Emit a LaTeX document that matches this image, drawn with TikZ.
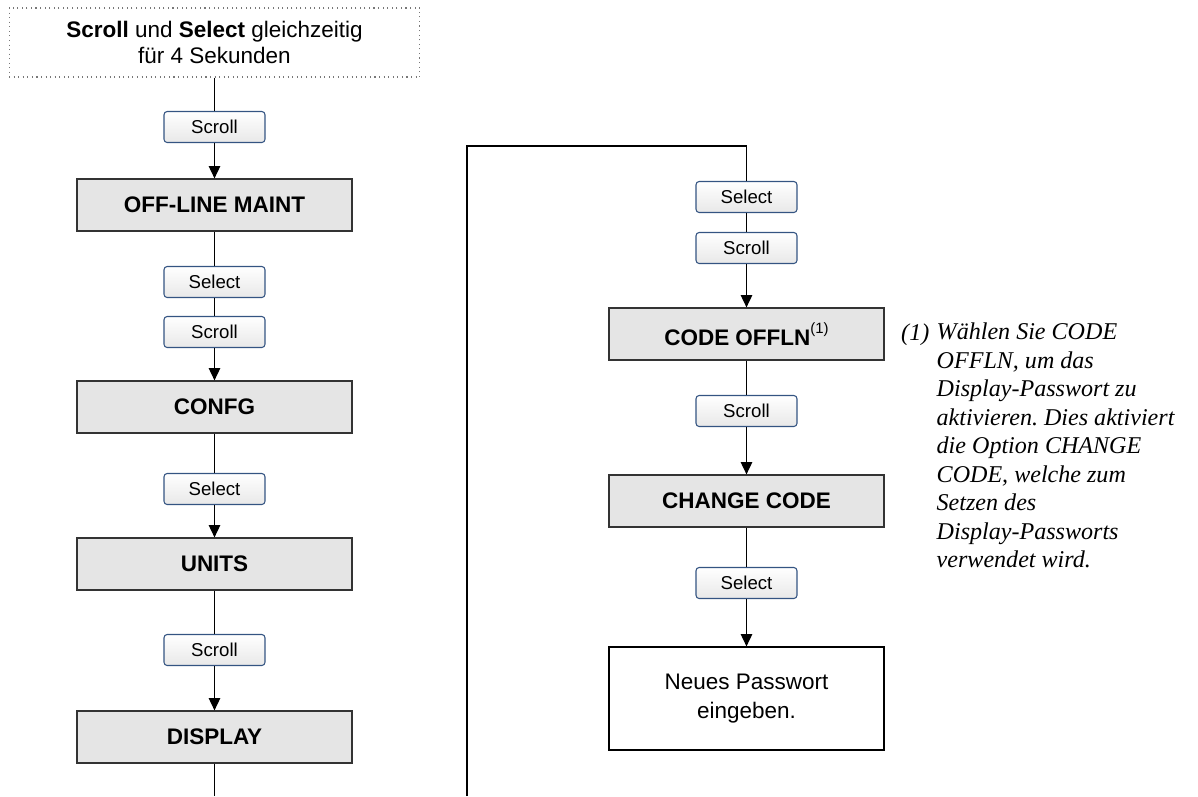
\documentclass[tikz,border=0pt]{standalone}
\usepackage{fontspec}
\setmainfont{Liberation Sans}
\newfontfamily\notefont{Liberation Serif}
\usetikzlibrary{arrows.meta}

\definecolor{keyblue}{RGB}{52,84,130}
\definecolor{menugray}{RGB}{229,229,229}
\definecolor{dotgray}{RGB}{120,120,120}

\begin{document}
\begin{tikzpicture}[x=0.02cm, y=-0.02cm, thick, >={Triangle[width=6.5pt,length=7pt]},
                    every node/.style={font=\fontsize{12.8}{15}\selectfont},
                    main node/.style={rectangle,draw=black!80,fill=menugray,line width=0.7pt,
                      minimum width=5.5cm,minimum height=1.04cm,font=\fontsize{12.8}{15}\selectfont\bfseries},
                    key node/.style={rectangle,rounded corners=1.8pt,draw=keyblue,line width=0.6pt,
                      top color=white,bottom color=black!9,minimum width=2.02cm,minimum height=0.62cm,
                      font=\fontsize{10.6}{12}\selectfont},
                    start node/.style={rectangle,draw=dotgray,dotted,line width=0.6pt,align=center,
                      minimum width=8.22cm,minimum height=1.38cm},
                    text node/.style={rectangle,draw,line width=0.7pt,align=center,
                      minimum width=5.5cm,minimum height=2.06cm,font=\fontsize{12.8}{16.5}\selectfont},
                    note/.style={inner sep=0pt,font=\notefont\itshape\fontsize{13.7}{16.2}\selectfont}]

  \useasboundingbox (0,0) rectangle (1198,796);

  % left column
  \node[start node] (1) at (214.5,42.5) {\textbf{Scroll} und \textbf{Select} gleichzeitig\\für 4 Sekunden};
  \node[key node] (2) at (214.5,127) {Scroll};
  \node[main node] (3) at (214.5,205) {OFF-LINE MAINT};
  \node[key node] (4) at (214.5,282) {Select};
  \node[key node] (5) at (214.5,332) {Scroll};
  \node[main node] (6) at (214.5,407) {CONFG};
  \node[key node] (7) at (214.5,489) {Select};
  \node[main node] (8) at (214.5,564) {UNITS};
  \node[key node] (9) at (214.5,650) {Scroll};
  \node[main node] (10) at (214.5,737) {DISPLAY};
  \coordinate (10b) at (214.5,796);

  % right column
  \coordinate (lb) at (467,796);
  \coordinate (lt) at (467,146);
  \node[key node] (11) at (746.5,197) {Select};
  \node[key node] (12) at (746.5,248) {Scroll};
  \node[main node] (13) at (746.5,334) {CODE OFFLN\raisebox{0.55em}{\mdseries\fontsize{8.5}{9}\selectfont(1)}};
  \node[key node] (14) at (746.5,411) {Scroll};
  \node[main node] (15) at (746.5,501) {CHANGE CODE};
  \node[key node] (16) at (746.5,583) {Select};
  \node[text node] (17) at (746.5,698.5) {Neues Passwort\\eingeben.};

  % footnote
  \node[note,anchor=base east] (fn) at (930,340) {(1)};
  \node[note,anchor=north west,align=left] (fntext) at (936,322.5)
    {Wählen Sie CODE\\OFFLN, um das\\Display-Passwort zu\\aktivieren.\ Dies aktiviert\\die Option CHANGE\\CODE, welche zum\\Setzen des\\Display-Passworts\\verwendet wird.};

  \path (1) edge (2);
  \path (2) edge[->] (3);
  \path (3) edge (4);
  \path (4) edge (5);
  \path (5) edge[->] (6);
  \path (6) edge (7);
  \path (7) edge[->] (8);
  \path (8) edge (9);
  \path (9) edge[->] (10);
  \path (10) edge (10b);

  \draw (lb) -- (lt) -| (11);
  \path (11) edge (12);
  \path (12) edge[->] (13);
  \path (13) edge (14);
  \path (14) edge[->] (15);
  \path (15) edge (16);
  \path (16) edge[->] (17);

\end{tikzpicture}
\end{document}
